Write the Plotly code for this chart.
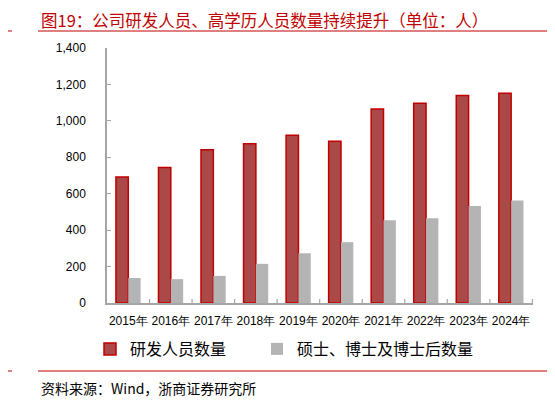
import plotly.graph_objects as go

years = ["2015年", "2016年", "2017年", "2018年", "2019年",
         "2020年", "2021年", "2022年", "2023年", "2024年"]
rd_staff = [692, 744, 842, 875, 921, 888, 1065, 1097, 1139, 1152]
postgrad = [137, 131, 149, 215, 273, 334, 454, 465, 532, 563]

RED = "#C00000"
CJK = "Noto Sans CJK SC"

# page body has an 8px margin, so the figure is drawn 8px smaller and
# every reference pixel position is shifted by 8
OFF = 8
W, H = 555 - OFF, 402 - OFF
# plot area in reference pixels: x 107..533, y 48..303
L, T = 107 - OFF, 48 - OFF
R, B = W - (533 - OFF), H - (303 - OFF)
pw, ph = W - L - R, H - T - B


def px(x):
    return (x - OFF - L) / pw


def py(y):
    return (H - B - (y - OFF)) / ph


fig = go.Figure()
fig.add_trace(go.Bar(x=years, y=rd_staff, name="研发人员数量", legend="legend",
                     marker=dict(color="#AB4848", line=dict(color=RED, width=1.5))))
fig.add_trace(go.Bar(x=years, y=postgrad, name="硕士、博士及博士后数量", legend="legend2",
                     marker=dict(color="#B4B4B4", line=dict(width=0))))

leg = dict(orientation="h", y=py(349), xanchor="left", yanchor="middle",
           font=dict(family=CJK, size=16, color="#000000"),
           itemwidth=30, bgcolor="rgba(0,0,0,0)")

fig.update_layout(
    width=W, height=H,
    margin=dict(l=L, r=R, t=T, b=B, autoexpand=False),
    paper_bgcolor="white", plot_bgcolor="white",
    barmode="group", bargap=0.42, bargroupgap=0,
    font=dict(family="Liberation Sans, Arial", size=12, color="#000000"),
    legend=dict(leg, x=px(90)),
    legend2=dict(leg, x=px(257)),
    showlegend=True,
)

fig.update_yaxes(range=[0, 1400], dtick=200, tickformat=",", showgrid=False,
                 showline=True, linecolor="#A6A6A6", linewidth=1.5,
                 ticks="inside", ticklen=4, tickcolor="#A6A6A6",
                 ticklabelstandoff=17, zeroline=False,
                 tickfont=dict(size=12))
fig.update_xaxes(showline=True, linecolor="#A6A6A6", linewidth=1.5,
                 showgrid=False, ticks="", tickfont=dict(size=12),
                 ticklabelstandoff=6)

# category boundary tick marks on the x axis
for i in range(1, len(years) + 1):
    fig.add_shape(type="line", xref="x", yref="paper", x0=i - 0.5, x1=i - 0.5,
                  y0=0, y1=4 / ph, line=dict(color="#A6A6A6", width=1.2))

# title, separator lines and source note
fig.add_annotation(text="图19：公司研发人员、高学历人员数量持续提升（单位：人）",
                   xref="paper", yref="paper", x=px(39), y=py(20),
                   xanchor="left", yanchor="middle", showarrow=False,
                   font=dict(family=CJK, size=16.5, color=RED))
for yy in (31, 371):
    fig.add_shape(type="line", xref="paper", yref="paper", x0=px(38), x1=px(555),
                  y0=py(yy), y1=py(yy), line=dict(color=RED, width=1))
    fig.add_shape(type="line", xref="paper", yref="paper", x0=px(OFF), x1=px(12),
                  y0=py(yy), y1=py(yy), line=dict(color=RED, width=1))
fig.add_annotation(text="资料来源：Wind，浙商证券研究所",
                   xref="paper", yref="paper", x=px(39), y=py(388),
                   xanchor="left", yanchor="middle", showarrow=False,
                   font=dict(family=CJK, size=14, color="#000000"))

fig.write_html("out.html")
